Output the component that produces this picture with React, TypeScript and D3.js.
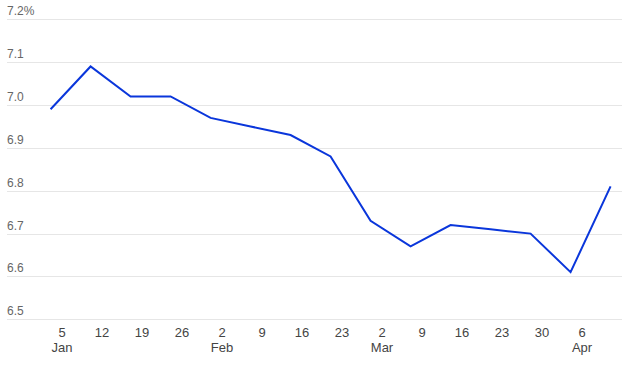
import React, { useRef, useEffect } from "react";
import * as d3 from "d3";

// weekly rate readings (Fridays), 2025
const dates = [
  "2025-01-03", "2025-01-10", "2025-01-17", "2025-01-24", "2025-01-31",
  "2025-02-07", "2025-02-14", "2025-02-21", "2025-02-28", "2025-03-07",
  "2025-03-14", "2025-03-21", "2025-03-28", "2025-04-04", "2025-04-11",
];
const rates = [6.99, 7.09, 7.02, 7.02, 6.97, 6.95, 6.93, 6.88, 6.73, 6.67, 6.72, 6.71, 6.7, 6.61, 6.81];
const yTicks = [6.5, 6.6, 6.7, 6.8, 6.9, 7.0, 7.1, 7.2];

const parse = d3.timeParse("%Y-%m-%d");

function RateChart() {
  const svgRef = useRef<SVGSVGElement>(null);

  useEffect(() => {
    const svg = d3.select(svgRef.current);
    svg.selectAll("*").remove();

    const width = 624;
    const height = 375;
    const left = 7;
    const right = 622;

    svg.attr("width", width).attr("height", height);

    const data = dates.map((d, i) => ({ date: parse(d) as Date, value: rates[i] }));

    // scales
    const xScale = d3.scaleTime()
      .domain([parse("2025-01-05") as Date, parse("2025-04-06") as Date])
      .range([62, 582]);

    const yScale = d3.scaleLinear()
      .domain([6.5, 7.2])
      .range([319.3, 19.3]);

    // gridlines + y labels
    const grid = svg.append("g");
    grid.selectAll("line")
      .data(yTicks)
      .join("line")
      .attr("x1", left)
      .attr("x2", right)
      .attr("y1", d => Math.round(yScale(d)) + 0.5)
      .attr("y2", d => Math.round(yScale(d)) + 0.5)
      .attr("stroke", "#e6e6e6")
      .attr("stroke-width", 1);

    grid.selectAll("text")
      .data(yTicks)
      .join("text")
      .attr("x", left)
      .attr("y", d => yScale(d) - 4)
      .attr("fill", "#666")
      .attr("font-size", 12)
      .attr("font-family", "Liberation Sans, Arial, sans-serif")
      .text((d, i) => d.toFixed(1) + (i === yTicks.length - 1 ? "%" : ""));

    // x axis labels
    const ticks = xScale.ticks(d3.timeSunday.every(1) as d3.TimeInterval);
    const xg = svg.append("g")
      .attr("font-family", "Liberation Sans, Arial, sans-serif")
      .attr("font-size", 13)
      .attr("fill", "#444")
      .attr("text-anchor", "middle");

    xg.selectAll(".day")
      .data(ticks)
      .join("text")
      .attr("class", "day")
      .attr("x", d => xScale(d))
      .attr("y", 337)
      .text(d => d3.timeFormat("%-d")(d));

    xg.selectAll(".month")
      .data(ticks.filter(d => d.getDate() <= 7))
      .join("text")
      .attr("class", "month")
      .attr("x", d => xScale(d))
      .attr("y", 352)
      .text(d => d3.timeFormat("%b")(d));

    // line
    const line = d3.line<{ date: Date; value: number }>()
      .x(d => xScale(d.date))
      .y(d => yScale(d.value));

    svg.append("path")
      .datum(data)
      .attr("d", line)
      .attr("fill", "none")
      .attr("stroke", "#0a36db")
      .attr("stroke-width", 2)
      .attr("stroke-linejoin", "miter");
  }, []);

  return <svg ref={svgRef} style={{ display: "block" }} />;
}

export default function App() {
  return (
    <div style={{ position: "absolute", left: 0, top: 0 }}>
      <RateChart />
    </div>
  );
}
